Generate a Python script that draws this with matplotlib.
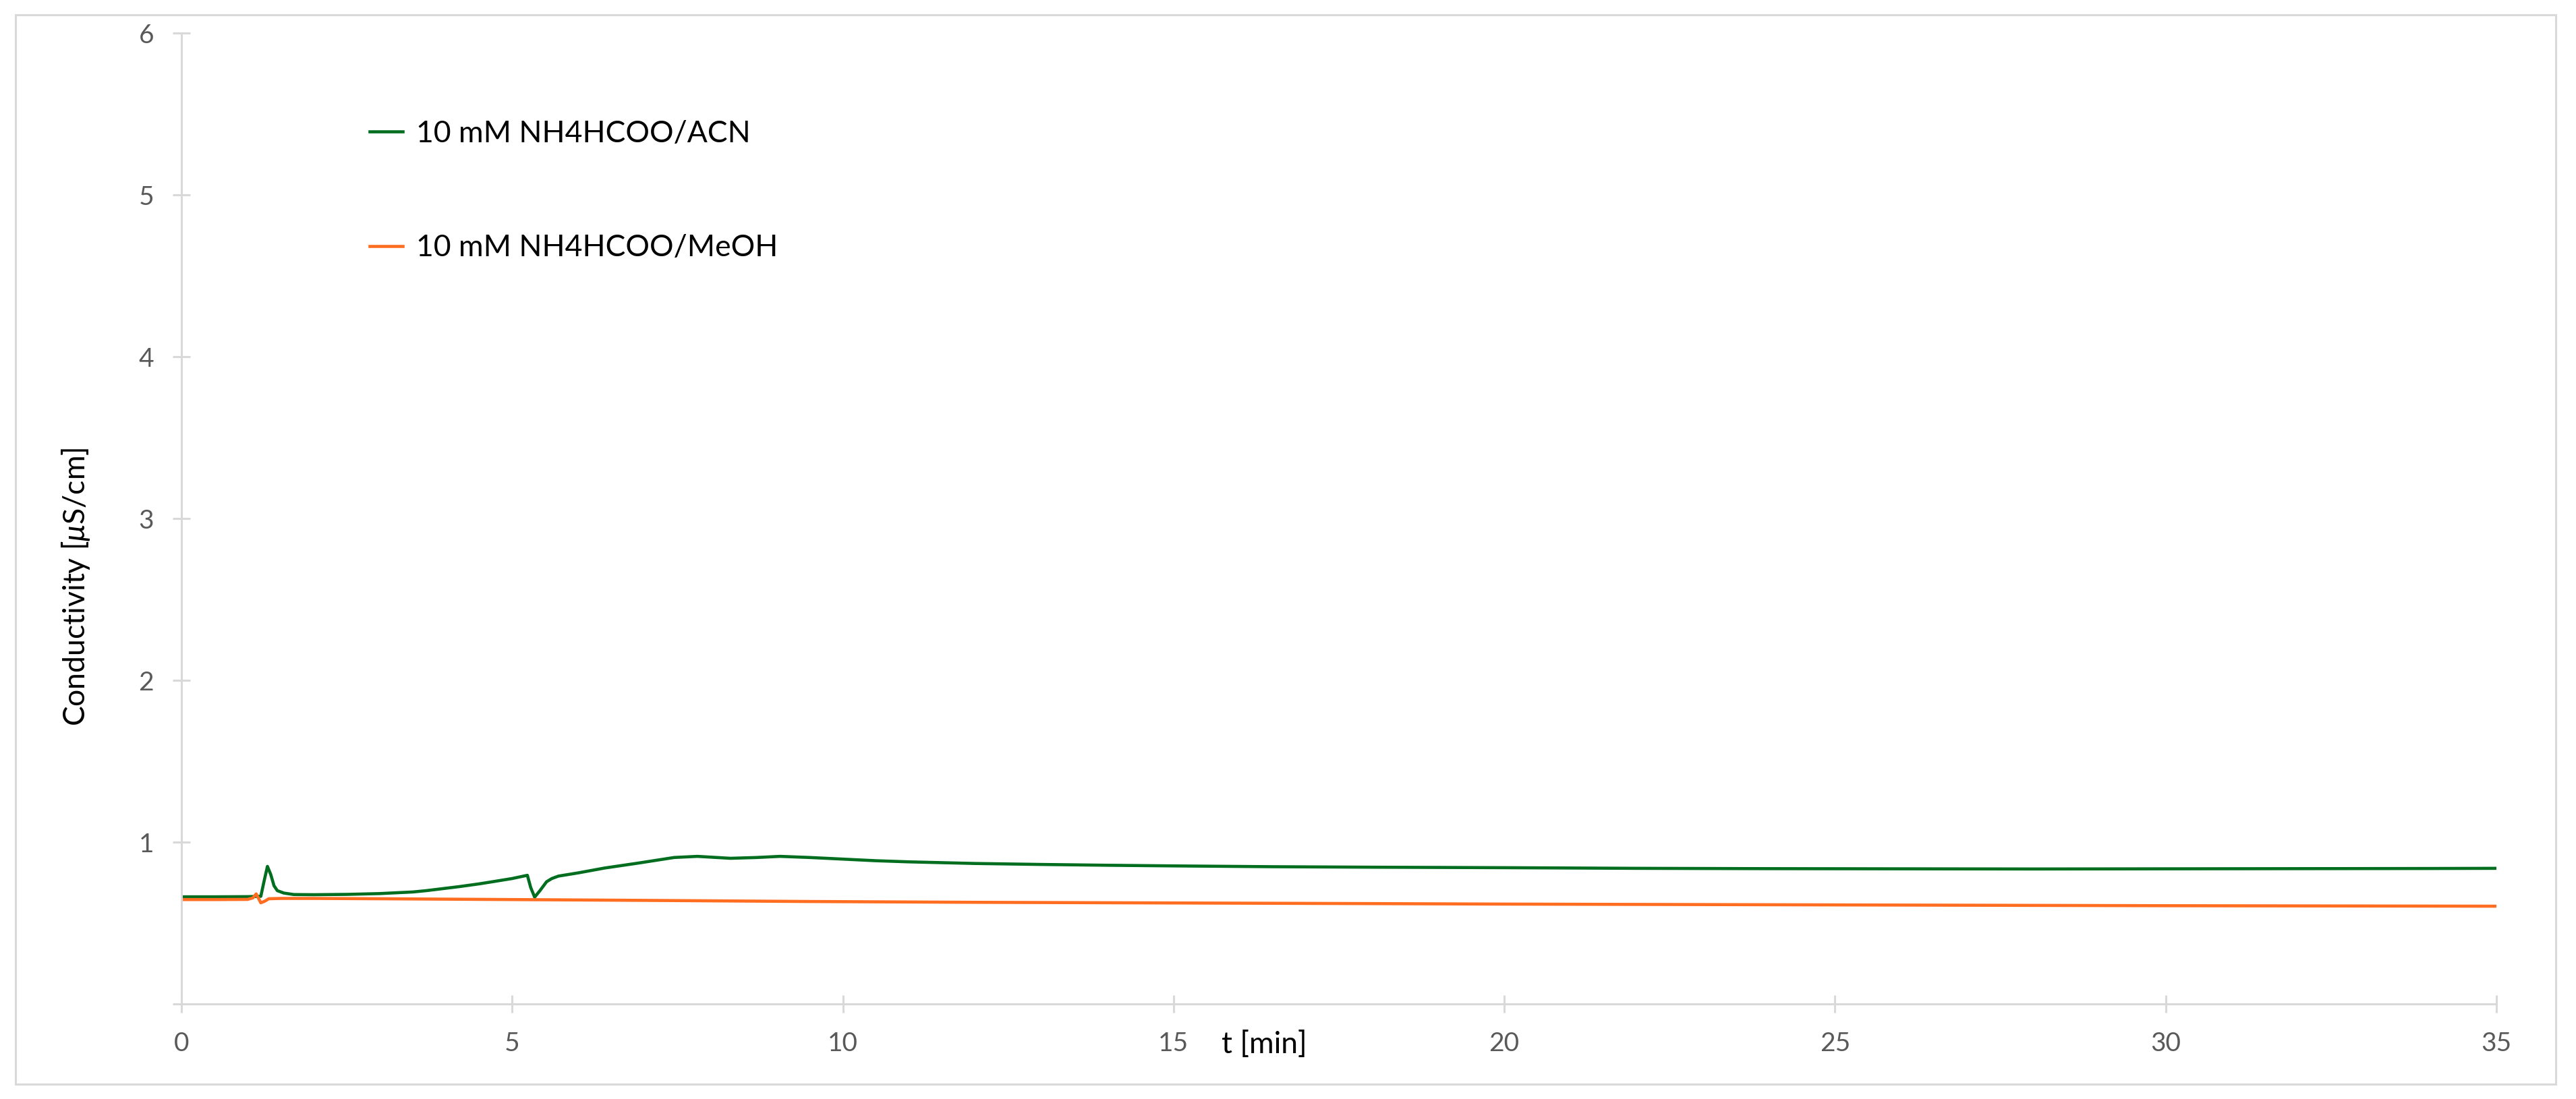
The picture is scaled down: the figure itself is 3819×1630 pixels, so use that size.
import matplotlib
matplotlib.use("Agg")
import matplotlib.pyplot as plt
from matplotlib.patches import Rectangle

# datos
t_acn = [0.0, 0.5, 1.0, 1.2, 1.25, 1.30, 1.35, 1.40, 1.45, 1.55, 1.7, 2.0, 2.5, 3.0, 3.5, 3.7,
         4.0, 4.2, 4.5, 4.7, 5.0, 5.23, 5.28, 5.34, 5.42, 5.52, 5.6, 5.7, 6.0, 6.4, 6.9, 7.45,
         7.8, 8.3, 8.7, 9.05, 9.5, 10.0, 10.5, 11.0, 12.0, 13.0, 14.0, 15.0, 16.5, 18.0, 20.0,
         22.0, 24.0, 26.0, 28.0, 30.0, 32.0, 34.0, 35.0]
g_acn = [0.662, 0.662, 0.663, 0.665, 0.76, 0.85, 0.80, 0.73, 0.70, 0.685, 0.676, 0.675, 0.677,
         0.682, 0.692, 0.70, 0.715, 0.725, 0.742, 0.755, 0.775, 0.795, 0.72, 0.66, 0.70, 0.755,
         0.775, 0.79, 0.81, 0.84, 0.87, 0.905, 0.912, 0.90, 0.905, 0.912, 0.905, 0.895, 0.885,
         0.878, 0.868, 0.862, 0.857, 0.853, 0.848, 0.845, 0.842, 0.838, 0.836, 0.835, 0.834,
         0.835, 0.836, 0.837, 0.838]

t_meoh = [0.0, 0.5, 1.0, 1.08, 1.13, 1.2, 1.26, 1.32, 1.5, 2.0, 3.0, 5.0, 7.0, 9.5, 12.0, 15.0,
          18.0, 20.0, 25.0, 30.0, 35.0]
g_meoh = [0.645, 0.645, 0.646, 0.655, 0.68, 0.625, 0.635, 0.65, 0.652, 0.652, 0.65, 0.645,
          0.640, 0.633, 0.628, 0.624, 0.620, 0.617, 0.612, 0.607, 0.604]

etiquetas = ["10 mM NH4HCOO/ACN", "10 mM NH4HCOO/MeOH"]
colores = ["#006E1E", "#FF6D21"]

x_ticks = [0, 5, 10, 15, 20, 25, 30, 35]
y_ticks = [0, 1, 2, 3, 4, 5, 6]

plt.rcParams['font.family'] = ['Lato', 'DejaVu Sans']
plt.rcParams['mathtext.fontset'] = 'custom'
plt.rcParams['mathtext.rm'] = 'Lato'
plt.rcParams['mathtext.it'] = 'Lato:italic'

W, H = 3819, 1630
fig = plt.figure(figsize=(W / 100, H / 100), dpi=100)
ax = fig.add_axes([269 / W, 1 - 1489 / H, (3701 - 269) / W, (1489 - 49) / H])

ax.plot(t_acn, g_acn, color=colores[0], lw=3.3, label=etiquetas[0])
ax.plot(t_meoh, g_meoh, color=colores[1], lw=3.3, label=etiquetas[1])

ax.set_xlim(0, 35)
ax.set_ylim(0, 6)
ax.set_xticks(x_ticks)
ax.set_yticks(y_ticks)
ax.set_yticklabels([""] + [str(v) for v in y_ticks[1:]])

gris = "#D9D9D9"
for lado in ["top", "right"]:
    ax.spines[lado].set_visible(False)
for lado in ["left", "bottom"]:
    ax.spines[lado].set_color(gris)
    ax.spines[lado].set_linewidth(2.2)
ax.tick_params(direction="inout", length=19, width=2.2, color=gris,
               labelsize=28, labelcolor="#595959", pad=20)

# titulos de ejes
fig.text(1874 / W, 1 - 1550 / H, "t [min]", ha="center", va="center", fontsize=32)
fig.text(112 / W, 1 - 870 / H, r"Conductivity [$\mu$S/cm]", ha="center", va="center",
         rotation=90, fontsize=32)

# leyenda
ax.legend(loc="center left", bbox_to_anchor=(548 / W, 1 - 283 / H),
          bbox_transform=fig.transFigure, frameon=False, fontsize=32,
          borderpad=0, borderaxespad=0, handlelength=1.1, handletextpad=0.45,
          labelspacing=2.9)

# marco exterior
fig.patches.append(Rectangle((23 / W, 1 - 1608 / H), (3789 - 23) / W, (1608 - 22) / H,
                             transform=fig.transFigure, fill=False, edgecolor=gris, lw=2.2))

fig.savefig("out.png", dpi=100, facecolor="white")
